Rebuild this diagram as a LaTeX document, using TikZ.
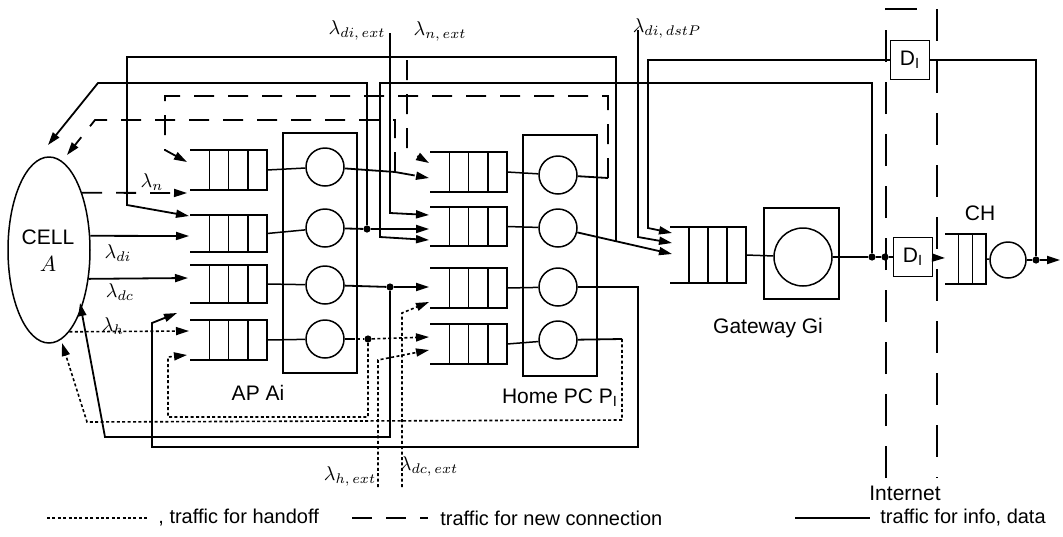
\documentclass[tikz,border=0pt]{standalone}
\usepackage{fontspec}
\setmainfont{Liberation Sans}
\usetikzlibrary{arrows.meta,shapes.geometric}

\newcommand{\queue}[6][0.25,0.5,0.75]{%
  \draw[box] (#3,#4) -- (#5,#4) -- (#5,#6) -- (#3,#6);
  \foreach \dv in {#1} \draw[box] ({#3+\dv*(#5-#3)},#4) -- ({#3+\dv*(#5-#3)},#6);
  \coordinate (#2) at (#5,{(#4+#6)/2});
}

\begin{document}
\begin{tikzpicture}[x=0.5pt,y=-0.5pt,
  info/.style={line width=0.9pt},
  newconn/.style={line width=0.9pt,dash pattern=on 10pt off 7pt},
  handoff/.style={line width=0.8pt,dash pattern=on 1.5pt off 1.2pt},
  netline/.style={line width=0.9pt,dash pattern=on 16pt off 10pt},
  box/.style={line width=0.75pt},
  srv/.style={circle,draw,line width=0.75pt,minimum size=19pt,inner sep=0pt},
  dbox/.style={draw,line width=0.75pt,minimum size=19.5pt,inner sep=0pt},
  dot/.style={circle,fill,inner sep=0pt,minimum size=3.6pt},
  lbl/.style={font=\fontsize{10.5}{12}\selectfont},
  legend/.style={font=\fontsize{10}{12}\selectfont,anchor=west,inner sep=0pt},
  >={Triangle[length=6.5pt,width=4pt]}]
\useasboundingbox (0,0) rectangle (1063,536);

\node[ellipse,draw,line width=0.75pt,minimum width=41pt,minimum height=93pt,inner sep=0pt] (cell) at (49,250) {};
\node[lbl] (celltxt) at (48,237) {CELL};
\node[lbl] (cella) at (48,264) {$A$};

\queue{aq1o}{190}{150}{267}{190}
\queue{aq2o}{190}{215}{267}{252}
\queue{aq3o}{190}{265}{267}{303}
\queue{aq4o}{190}{320}{267}{360}
\queue{hq1o}{430}{152}{507}{192}
\queue{hq2o}{430}{207}{507}{246}
\queue{hq3o}{430}{268}{507}{308}
\queue{hq4o}{430}{324}{507}{364}
\queue{gqo}{670}{227}{746}{283}
\queue[0.33,0.67]{chqo}{945}{234}{986}{284}

\draw[box] (283,133) rectangle (357,373);
\draw[box] (523,135) rectangle (597,376);
\draw[box] (764,208) rectangle (839,299);

\node[srv] (a1) at (325,167) {};
\node[srv] (a2) at (325,228) {};
\node[srv] (a3) at (325,285) {};
\node[srv] (a4) at (325,339) {};
\node[srv] (h1) at (558,175) {};
\node[srv] (h2) at (558,228) {};
\node[srv] (h3) at (558,287) {};
\node[srv] (h4) at (558,340) {};
\node[srv,minimum size=29pt] (gs) at (803,257) {};
\node[srv,minimum size=18pt] (ch) at (1008,260) {};
\foreach \qo/\sv in {aq1o/a1,aq2o/a2,aq3o/a3,aq4o/a4,hq1o/h1,hq2o/h2,hq3o/h3,hq4o/h4,gqo/gs,chqo/ch}
  \draw[box] (\qo) -- (\sv);

\node[lbl] (aplbl) at (258,393) {AP Ai};
\node[lbl] (pclbl) at (560,398) {Home PC P\textsubscript{I}};
\node[lbl] (gwlbl) at (768,328) {Gateway Gi};
\node[lbl] (chlbl) at (980,213) {CH};
\node[lbl] (netlbl) at (905,493) {Internet};

\node[dbox,lbl] (d1t) at (910,60) {D\textsubscript{I}};
\node[dbox,lbl] (d1b) at (913,257) {D\textsubscript{I}};
\draw[netline] (886,478) -- (886,9) -- (937,9) -- (937,478);

\node[dot] (g1) at (872,257) {};
\node[dot] (g2) at (885,257) {};
\node[dot] (c1) at (1036,260) {};
\node[dot] (j2) at (367,229) {};
\node[dot] (j3) at (390,287) {};
\node[dot] (j4) at (368,339) {};

% cell
\draw[info,->] (cell.19) -- (189,236);
\draw[info,->] (cell.-36) -- (188,278);
\draw[newconn,->] (cell.60) -- (187,193);
\draw[handoff,->] (cell.-76) -- (189,331);
\node (ln) at (152,182) {$\lambda_{n}$};
\node (ldi) at (118,253) {$\lambda_{di}$};
\node (ldc) at (120,292) {$\lambda_{dc}$};
\node (lh) at (113,326) {$\lambda_{h}$};

% gateway, internet, CH
\draw[info] (gs) -- (g1) -- (g2) -- (d1b);
\draw[info,->] (d1b) -- (945,258);
\draw[info] (ch) -- (c1);
\draw[info,->] (c1) -- (1060,260);
\draw[info] (c1) |- (d1t);
\draw[info,->] (d1t) -| (648,228) -- (672,233);
\draw[info,->] (638,30) -- (638,237) -- (672,243);
\draw[info,->] (h2) -- (672,254);
\draw[info,->] (g1) |- (380,83) -- (380,237) -- (429,240);

% AP outputs
\coordinate (a1o) at (395,172);
\draw[info] (a1) -- (a1o);
\draw[newconn,->] (a1o) -- (429,178);
\draw[newconn,->] (a1o) -- (395,120) -- (95,120) -- (67,155);
\draw[info] (a2) -- (j2);
\draw[info,->] (j2) -- (429,229);
\draw[info,->] (j2) |- (98,83) -- (48,145);
\draw[info] (a3) -- (j3);
\draw[info,->] (j3) -- (429,287);
\draw[info,->] (j3) |- (105,437) -- (80,303);
\draw[info] (a4) -- (352,339);
\draw[handoff] (352,339) -- (j4);
\draw[handoff,->] (j4) -- (429,337);
\draw[handoff,->] (j4) |- (168,417) -- (168,357) -- (187,355);

% home PC outputs
\coordinate (h1o) at (608,178);
\draw[info] (h1) -- (h1o);
\draw[newconn,->] (h1o) -- (608,96) -| (165,150) -- (187,162);
\coordinate (t1) at (616,241);
\draw[info,->] (t1) |- (127,57) -- (127,205) -- (189,216);
\draw[info,->] (h3) -| (638,447) -| (152,323) -- (177,313);
\coordinate (h4o) at (622,339);
\draw[info] (h4) -- (h4o);
\draw[handoff,->] (h4o) -- (622,420) -- (87,422) -- (62,343);

% external
\draw[info,->] (390,33) -- (390,213) -- (429,215);
\draw[newconn,->] (407,60) -- (407,150) -- (429,163);
\draw[handoff,->] (378,487) -- (378,360) -- (429,350);
\draw[handoff,->] (402,487) -- (402,313) -- (429,302);
\node (ldiext) at (357,30) {$\lambda_{di,\,ext}$};
\node (lnext) at (440,31) {$\lambda_{n,\,ext}$};
\node (ldest) at (667,28) {$\lambda_{di,\,dstP}$};
\node (lhext) at (350,476) {$\lambda_{h,\,ext}$};
\node (ldcext) at (429,466) {$\lambda_{dc,\,ext}$};

% legend
\node[legend] (lg1) at (158,518) {, traffic for handoff};
\draw[handoff] (47,518) -- (147,518);
\node[legend] (lg2) at (440,518) {traffic for new connection};
\draw[newconn] (352,518) -- (428,518);
\node[legend] (lg3) at (880,518) {traffic for info, data};
\draw[info] (795,518) -- (870,518);
\end{tikzpicture}
\end{document}
